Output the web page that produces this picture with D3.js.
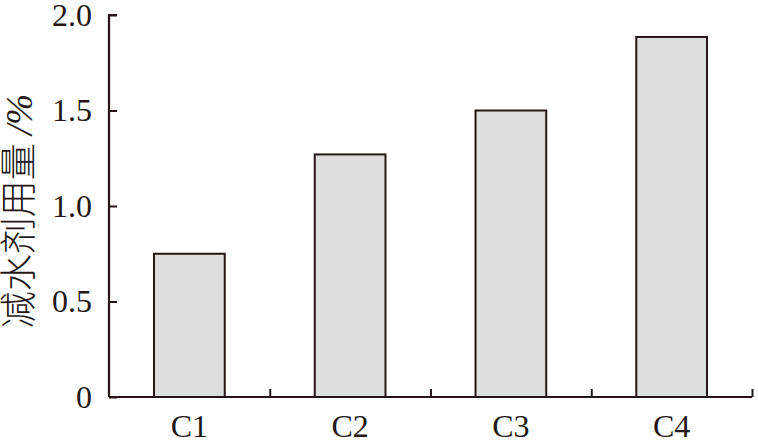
<!DOCTYPE html>
<html>
<head>
<meta charset="utf-8">
<script src="https://cdn.jsdelivr.net/npm/d3@7"></script>
<style>
  body { margin: 0; background: #fff; }
  svg { display: block; }
</style>
</head>
<body>
<script>
var categories = ['C1', 'C2', 'C3', 'C4'];
var values = [0.75, 1.27, 1.50, 1.885];
var yTicks = [0, 0.5, 1.0, 1.5, 2.0];

var W = 758, H = 442;
var ink = '#231815';

var svg = d3.select('body').append('svg')
  .attr('width', W).attr('height', H);

var x = d3.scaleBand().domain(categories).range([109, 752]).paddingInner(0.56).paddingOuter(0.28);
var xb = d3.scaleLinear().domain([0, categories.length]).range([109, 752]);
var y = d3.scaleLinear().domain([0, 2]).range([397, 15]);

// bars
svg.selectAll('rect.bar').data(values).enter().append('rect')
  .attr('class', 'bar')
  .attr('x', function(d, i) { return x(categories[i]); })
  .attr('y', function(d) { return y(d); })
  .attr('width', x.bandwidth())
  .attr('height', function(d) { return y(0) - y(d); })
  .attr('fill', '#dcdddd')
  .attr('stroke', ink)
  .attr('stroke-width', 2);

// y axis
var yAxis = svg.append('g').attr('transform', 'translate(109,0)')
  .call(d3.axisLeft(y).tickValues(yTicks).tickSize(-8).tickPadding(17)
    .tickFormat(function(d) { return d === 0 ? '0' : d3.format('.1f')(d); }));

// x axis line with ticks between bands
var xAxis = svg.append('g').attr('transform', 'translate(0,397)')
  .call(d3.axisBottom(xb).tickValues(d3.range(1, categories.length + 1)).tickSize(-8).tickFormat(''));

[yAxis, xAxis].forEach(function(g) {
  g.select('.domain').attr('stroke', ink).attr('stroke-width', 2.2);
  g.selectAll('.tick line').attr('stroke', ink).attr('stroke-width', 2);
});
yAxis.select('.domain').attr('d', 'M0,397V15H8');
xAxis.select('.domain').attr('d', 'M109,0H752');

yAxis.selectAll('.tick text')
  .attr('font-family', '"Liberation Serif", "Times New Roman", serif')
  .attr('font-size', 32).attr('fill', ink);

// category labels
svg.selectAll('text.cat').data(categories).enter().append('text')
  .attr('class', 'cat')
  .attr('x', function(d) { return x(d) + x.bandwidth() / 2; })
  .attr('y', 437)
  .attr('text-anchor', 'middle')
  .attr('font-family', '"Liberation Serif", "Times New Roman", serif')
  .attr('font-size', 32).attr('fill', ink)
  .text(function(d) { return d; });

// y title
var title = svg.append('text')
  .attr('transform', 'translate(32,211) rotate(-90)')
  .attr('text-anchor', 'middle')
  .attr('font-size', 37).attr('fill', ink);
title.append('tspan').attr('font-family', '"Noto Sans CJK SC", sans-serif').attr('font-weight', 300).text('减水剂用量 ');
title.append('tspan').attr('font-family', '"Liberation Serif", serif').attr('font-style', 'italic').text('/%');
</script>
</body>
</html>
